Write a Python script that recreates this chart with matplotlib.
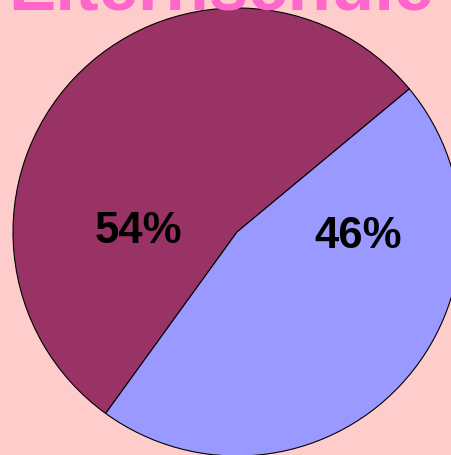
import matplotlib
matplotlib.use("Agg")
import matplotlib.pyplot as plt

title = "Elternschule"
labels = ["54%", "46%"]
values = [54, 46]
colors = ["#993366", "#9999FF"]

W, H = 452, 455
fig = plt.figure(figsize=(W / 100, H / 100), dpi=100)
fig.patch.set_facecolor("#FFCCCC")

cx, cy, r = 237, 232, 224
ax = fig.add_axes([(cx - r) / W, (H - cy - r) / H, 2 * r / W, 2 * r / H])
ax.set_facecolor("none")
ax.pie(values, colors=colors, startangle=39.7, counterclock=True,
       wedgeprops=dict(edgecolor="black", linewidth=0.8))
ax.set_xlim(-1, 1)
ax.set_ylim(-1, 1)
ax.set_aspect("equal", adjustable="box")
ax.axis("off")

label_pos = [(-0.442, 0.004), (0.540, -0.018)]
for lab, (x, y) in zip(labels, label_pos):
    ax.text(x, y, lab, ha="center", va="center", fontsize=31.5,
            fontweight="bold", family="Liberation Sans", color="black")

fig.text(221 / W, 1 - 9 / H, title, ha="center", va="baseline",
         fontsize=51, fontweight="bold", family="Liberation Sans",
         color="#FF66CC")

fig.savefig("out.png", dpi=100, facecolor=fig.get_facecolor())
